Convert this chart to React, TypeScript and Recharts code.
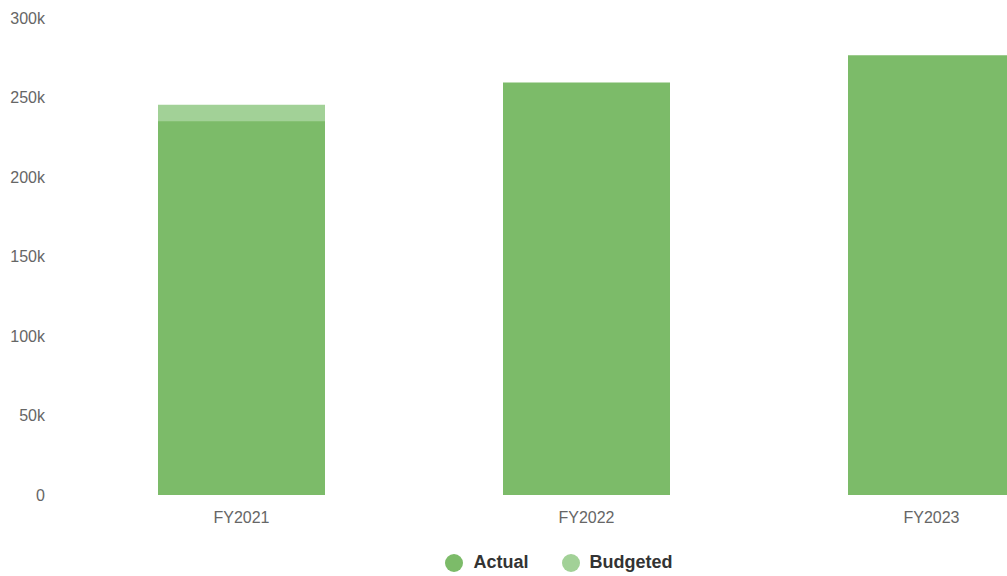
import React from 'react';
import { BarChart, Bar, XAxis, YAxis, Legend } from 'recharts';

const years = ['FY2021', 'FY2022', 'FY2023'];
const actual = [235000, 259500, 276500];
const budgeted = [245500, 252000, 268000];
const yTicks = [0, 50000, 100000, 150000, 200000, 250000, 300000];

const chartData = years.map((year, i) => ({ year, actual: actual[i], budgeted: budgeted[i] }));

const ACTUAL_COLOR = '#7cbb69';
const BUDGET_COLOR = '#a2d197';
const FONT = '"Liberation Sans", Arial, Helvetica, sans-serif';

const formatK = (v: number) => (v === 0 ? '0' : `${v / 1000}k`);

const LegendContent = ({ payload }: any) => {
  const items = [...(payload || [])].sort((a: any, b: any) => (a.value > b.value ? 1 : -1));
  return (
    <div style={{ display: 'flex', justifyContent: 'center', alignItems: 'center', fontFamily: FONT, paddingLeft: 14 }}>
      {items.map((item: any, i: number) => (
        <div key={item.value} style={{ display: 'flex', alignItems: 'center', marginLeft: i === 0 ? 0 : 33 }}>
          <span style={{ width: 18, height: 18, borderRadius: 9, background: item.color, display: 'inline-block' }} />
          <span style={{ marginLeft: 10, fontSize: 18, fontWeight: 'bold', color: '#333' }}>{item.value}</span>
        </div>
      ))}
    </div>
  );
};

export default function App() {
  return (
    <div style={{ position: 'fixed', left: 0, top: 0, width: 1007, height: 576, overflow: 'hidden', background: '#fff' }}>
      <BarChart
        width={1118}
        height={576}
        data={chartData}
        margin={{ top: 18, right: 14, left: 0, bottom: 0 }}
        barGap={-167}
        barSize={167}
      >
        <XAxis
          dataKey="year"
          axisLine={false}
          tickLine={false}
          tickMargin={11}
          height={57}
          tick={{ fontSize: 16, fill: '#666', fontFamily: FONT }}
        />
        <YAxis
          domain={[0, 300000]}
          ticks={yTicks}
          tickFormatter={formatK}
          axisLine={false}
          tickLine={false}
          tickMargin={18}
          width={69}
          tick={{ fontSize: 16, fill: '#666', fontFamily: FONT }}
        />
        <Legend verticalAlign="bottom" height={24} content={<LegendContent />} />
        <Bar dataKey="budgeted" name="Budgeted" fill={BUDGET_COLOR} isAnimationActive={false} />
        <Bar dataKey="actual" name="Actual" fill={ACTUAL_COLOR} isAnimationActive={false} />
      </BarChart>
    </div>
  );
}
